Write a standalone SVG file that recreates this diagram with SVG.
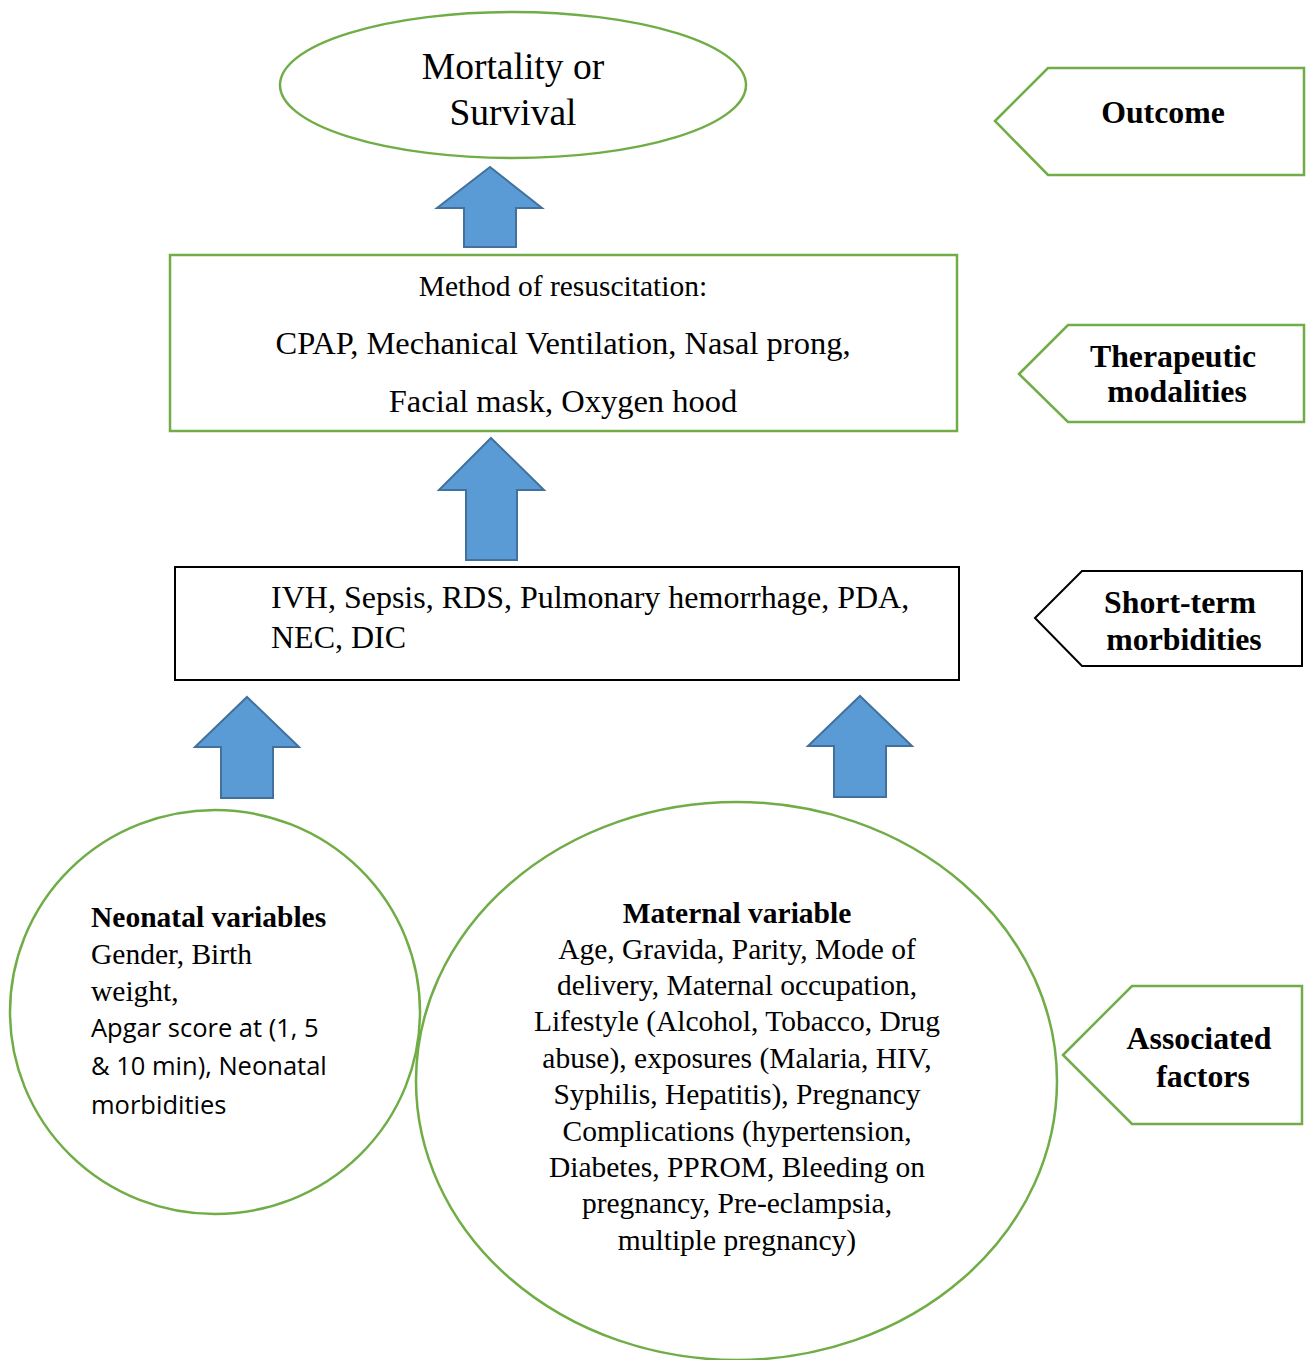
<svg xmlns="http://www.w3.org/2000/svg" width="1310" height="1360" viewBox="0 0 1310 1360">
<style>
.g{fill:#fff;stroke:#70AD47;stroke-width:2.5}
.k{fill:#fff;stroke:#000;stroke-width:2}
.arr{fill:#5B9BD5;stroke:#41719C;stroke-width:2}
.t{font-family:"Liberation Serif","Times New Roman",serif;fill:#000}
.b{font-weight:bold}
.s{font-family:"Open Sans","Liberation Sans",sans-serif;fill:#000}
</style>
<rect width="1310" height="1360" fill="#fff"/>
<g id="connectors">
<polygon class="arr" points="490,167 542,208 516,208 516,247 464,247 464,208 437,208"/>
<polygon class="arr" points="491,438 544,490 517,490 517,560 466,560 466,490 439,490"/>
<polygon class="arr" points="247,697 299,747 273,747 273,798 221,798 221,747 195,747"/>
<polygon class="arr" points="860,696 912,746 886,746 886,797 834,797 834,746 808,746"/>
</g>
<g id="outcome-node">
<ellipse class="g" cx="513" cy="85" rx="233" ry="73"/>
<text class="t" font-size="37.5" text-anchor="middle" x="513" y="79">Mortality or</text>
<text class="t" font-size="37.5" text-anchor="middle" x="513" y="125">Survival</text>
</g>
<g id="therapy-node">
<rect class="g" x="170" y="255" width="787" height="176"/>
<text class="t" font-size="29.5" text-anchor="middle" x="563" y="296">Method of resuscitation:</text>
<text class="t" font-size="32.5" text-anchor="middle" x="563" y="354">CPAP, Mechanical Ventilation, Nasal prong,</text>
<text class="t" font-size="32.5" text-anchor="middle" x="563" y="412">Facial mask, Oxygen hood</text>
</g>
<g id="morbidity-node">
<rect class="k" x="175" y="567" width="784" height="113"/>
<text class="t" font-size="32" x="271" y="608">IVH, Sepsis, RDS, Pulmonary hemorrhage, PDA,</text>
<text class="t" font-size="32" x="271" y="648">NEC, DIC</text>
</g>
<g id="neonatal-node">
<ellipse class="g" cx="215" cy="1012" rx="205" ry="202"/>
<text class="t b" font-size="29.5" x="91" y="927">Neonatal variables</text>
<text class="t" font-size="29.5" x="91" y="964">Gender, Birth</text>
<text class="t" font-size="29.5" x="91" y="1001">weight,</text>
<text class="s" font-size="25.5" x="91" y="1037">Apgar score at (1, 5</text>
<text class="s" font-size="25.5" x="91" y="1075">&amp; 10 min), Neonatal</text>
<text class="s" font-size="25.5" x="91" y="1114">morbidities</text>
</g>
<g id="maternal-node">
<ellipse class="g" cx="736.5" cy="1081" rx="320.5" ry="279"/>
<g class="t" font-size="29.5" text-anchor="middle">
<text class="b" x="737" y="923">Maternal variable</text>
<text x="737" y="959">Age, Gravida, Parity, Mode of</text>
<text x="737" y="995">delivery, Maternal occupation,</text>
<text x="737" y="1031">Lifestyle (Alcohol, Tobacco, Drug</text>
<text x="737" y="1068">abuse), exposures (Malaria, HIV,</text>
<text x="737" y="1104">Syphilis, Hepatitis), Pregnancy</text>
<text x="737" y="1141">Complications (hypertension,</text>
<text x="737" y="1177">Diabetes, PPROM, Bleeding on</text>
<text x="737" y="1213">pregnancy, Pre-eclampsia,</text>
<text x="737" y="1250">multiple pregnancy)</text>
</g>
</g>
<g id="label-outcome">
<polygon class="g" points="995,121 1048,68 1304,68 1304,175 1048,175"/>
<text class="t b" font-size="31.8" text-anchor="middle" x="1163" y="123">Outcome</text>
</g>
<g id="label-therapeutic">
<polygon class="g" points="1019,374 1068,325 1304,325 1304,422 1068,422"/>
<text class="t b" font-size="31.8" text-anchor="middle" x="1173" y="367">Therapeutic</text>
<text class="t b" font-size="31.8" text-anchor="middle" x="1177" y="402">modalities</text>
</g>
<g id="label-shortterm">
<polygon class="k" points="1035,618 1082,571 1302,571 1302,666 1082,666"/>
<text class="t b" font-size="31.8" text-anchor="middle" x="1180" y="613">Short-term</text>
<text class="t b" font-size="31.8" text-anchor="middle" x="1184" y="650">morbidities</text>
</g>
<g id="label-associated">
<polygon class="g" points="1063,1055 1132,986 1302,986 1302,1124 1132,1124"/>
<text class="t b" font-size="31.8" text-anchor="middle" x="1199" y="1049">Associated</text>
<text class="t b" font-size="31.8" text-anchor="middle" x="1203" y="1087">factors</text>
</g>
</svg>
